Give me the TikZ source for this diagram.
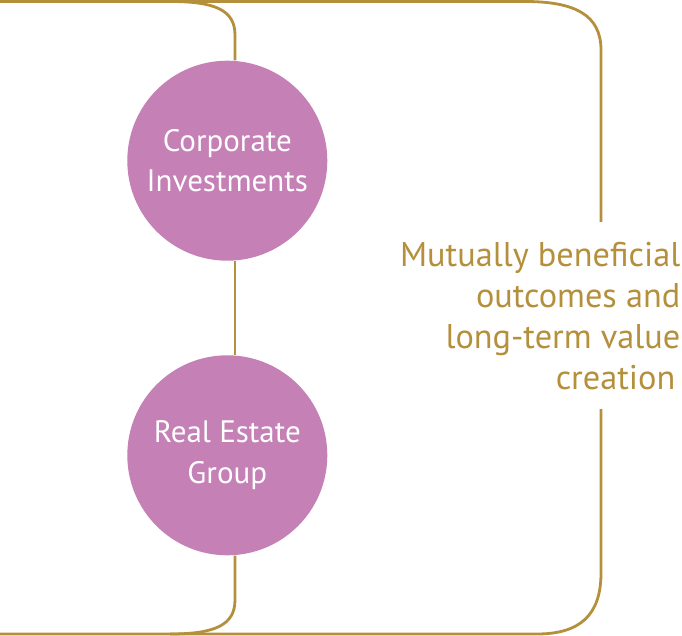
\documentclass[tikz,border=0pt]{standalone}
\usepackage{fontspec}
\setmainfont{PT Sans}
\definecolor{gold}{HTML}{B48F3C}
\definecolor{mauve}{HTML}{C580B6}
\begin{document}
\begin{tikzpicture}[x=1pt,y=-1pt,
  bubble/.style={circle,fill=mauve,minimum size=200pt,inner sep=0pt,text=white,align=center,font=\fontsize{31}{40.5}\selectfont},
  link/.style={draw=gold,line width=2.8pt},
  caption/.style={inner sep=0pt,text=gold,align=right,font=\fontsize{34.3}{40.7}\selectfont}]
\useasboundingbox (0,0) rectangle (682,636);
\node[bubble] (ci) at (227.3,160.7) {Corporate\\Investments};
\node[bubble] (cr) at (227.3,455.3) {Real Estate\\Group};
\node[caption,anchor=north east] (txt) at (680.5,242.5) {Mutually beneficial\\outcomes and\\long-term value\\creation\hspace*{5pt}};
\coordinate (vx) at (235,0);
\coordinate (tl) at (0,1.5);
\coordinate (bl) at (0,634);
\coordinate (tr) at (601,222);
\coordinate (br) at (601,409);
\coordinate (jt) at (170,1.5);
\coordinate (jb) at (170,634);
\draw[link] (tl) -- (525,1.5) .. controls (575,1.5) and (601,15) .. (601,50) -- (tr);
\draw[link] (bl) -- (537,634) .. controls (580,634) and (601,615) .. (601,573) -- (br);
\draw[link] (jt) .. controls (215,1.5) and (235,10) .. (235,35) -- (ci.north -| vx);
\draw[link] (ci.south -| vx) -- (cr.north -| vx);
\draw[link] (cr.south -| vx) -- (235,600) .. controls (235,625) and (215,634) .. (jb);
\end{tikzpicture}
\end{document}
